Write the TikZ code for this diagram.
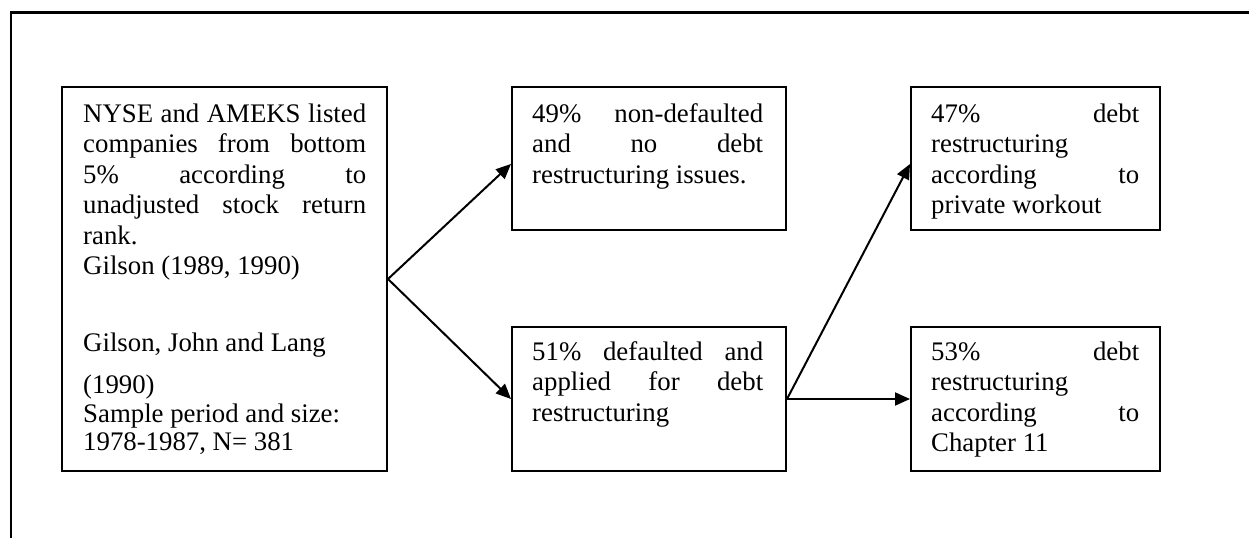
\documentclass[tikz,border=0pt]{standalone}
\usepackage{fontspec}
\setmainfont{Liberation Serif}
\usetikzlibrary{arrows.meta}
\begin{document}
\begin{tikzpicture}[x=1pt,y=-1pt,
  blk/.style={draw, line width=2pt, inner sep=0pt, anchor=north west},
  txt/.style={inner sep=0pt, anchor=base west, font=\fontsize{26.8}{30.5}\selectfont},
  arr/.style={line width=2pt, -{Triangle[length=15pt,width=13pt]}},
  frame/.style={line width=2.6pt}]
  % page and outer frame
  \fill[white] (0,0) rectangle (1249,538);
  \useasboundingbox (0,0) rectangle (1249,538);
  \draw[frame] (11,538) -- (11,12.5) -- (1249,12.5);

  % boxes
  \node[blk, minimum width=325pt, minimum height=384pt] (b1) at (61,86) {};
  \node[blk, minimum width=274pt, minimum height=143pt] (b2) at (511,86) {};
  \node[blk, minimum width=274pt, minimum height=144pt] (b3) at (511,326) {};
  \node[blk, minimum width=249pt, minimum height=143pt] (b4) at (910,86) {};
  \node[blk, minimum width=249pt, minimum height=144pt] (b5) at (910,326) {};

  % texts
  \node[txt] (t1) at (83,122) {\parbox[t]{283pt}{\raggedright
    NYSE\hfill and\hfill AMEKS\hfill listed\\
    companies\hfill from\hfill bottom\\
    5\%\hfill according\hfill to\\
    unadjusted\hfill stock\hfill return\\
    rank.\\
    Gilson (1989, 1990)\\[46pt]
    Gilson, John and Lang\\[11.5pt]
    (1990)\\[-1.5pt]
    Sample period and size:\\[-2pt]
    1978-1987, N= 381}};
  \node[txt] (t2) at (532,122) {\parbox[t]{231pt}{\raggedright
    49\%\hfill non-defaulted\\
    and\hfill no\hfill debt\\
    restructuring issues.}};
  \node[txt] (t3) at (532,360) {\parbox[t]{231pt}{\raggedright
    51\%\hfill defaulted\hfill and\\
    applied\hfill for\hfill debt\\
    restructuring}};
  \node[txt] (t4) at (931,122) {\parbox[t]{208pt}{\raggedright
    47\%\hfill debt\\
    restructuring\\
    according\hfill to\\
    private workout}};
  \node[txt] (t5) at (931,360) {\parbox[t]{208pt}{\raggedright
    53\%\hfill debt\\
    restructuring\\
    according\hfill to\\
    Chapter 11}};

  % connectors
  \draw[arr] (b1.east) -- ([yshift=-5.5pt]b2.west);
  \draw[arr] (b1.east) -- (b3.west);
  \draw[arr] (b3.east) -- ([yshift=-5.5pt]b4.west);
  \draw[arr] (b3.east) -- (b5.west);
\end{tikzpicture}
\end{document}
